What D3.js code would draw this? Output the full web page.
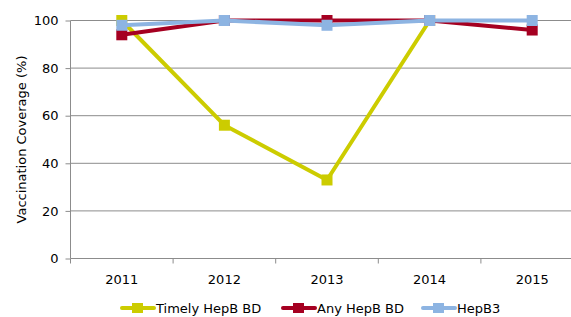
<!DOCTYPE html>
<html><head><meta charset="utf-8">
<script src="https://cdn.jsdelivr.net/npm/d3@7"></script>
<style>body{margin:0;background:#fff}svg{display:block}</style>
</head><body>
<script>
const years = ["2011","2012","2013","2014","2015"];
const timely = [100, 56, 33, 100, null];
const anyBD = [94, 100, 100, 100, 96];
const hepB3 = [98, 100, 98, 100, 100];
const yTicks = [0,20,40,60,80,100];
const seriesNames = ["Timely HepB BD","Any HepB BD","HepB3"];
const colors = ["#CCCC00","#A50021","#8DB4E2"];

const W=571,H=317;
const svg=d3.select("body").append("svg").attr("width",W).attr("height",H);
const font="'DejaVu Sans', Verdana, sans-serif";
const x=d3.scaleBand().domain(years).range([70.5,583.5]);
const y=d3.scaleLinear().domain([0,100]).range([258.5,20.5]);

// grid
svg.append("g").selectAll("line").data(yTicks.filter(d=>d>0)).join("line")
 .attr("x1",70.5).attr("x2",W).attr("y1",d=>y(d)).attr("y2",d=>y(d))
 .attr("stroke","#8c8c8c").attr("stroke-width",1);

// y axis
const ya=svg.append("g").attr("transform","translate(70.5,0)")
 .call(d3.axisLeft(y).tickValues(yTicks).tickSize(5).tickPadding(7));
ya.select(".domain").attr("stroke","#8c8c8c").attr("d","M0,"+y(100)+"V"+y(0));
ya.selectAll(".tick line").attr("stroke","#8c8c8c");
ya.selectAll("text").attr("font-family",font).attr("font-size",13).attr("fill","#000");

// x axis
const xa=svg.append("g").attr("transform","translate(0,"+y(0)+")")
 .call(d3.axisBottom(x).tickSize(0).tickPadding(16));
xa.select(".domain").attr("stroke","#8c8c8c").attr("d","M70.5,0H"+W);
xa.selectAll("text").attr("font-family",font).attr("font-size",13).attr("fill","#000");
svg.append("g").selectAll("line").data(years).join("line")
 .attr("x1",d=>x(d)).attr("x2",d=>x(d)).attr("y1",y(0)).attr("y2",y(0)+5)
 .attr("stroke","#8c8c8c");

// title
svg.append("text").attr("transform","translate(26,"+((y(0)+y(100))/2)+") rotate(-90)")
 .attr("text-anchor","middle").attr("font-family",font).attr("font-size",13)
 .text("Vaccination Coverage (%)");

const cx=d=>x(d)+x.bandwidth()/2;
const series=[timely,anyBD,hepB3];
series.forEach((vals,i)=>{
  const pts=years.map((yr,j)=>({yr,v:vals[j]})).filter(p=>p.v!=null);
  const line=d3.line().x(p=>cx(p.yr)).y(p=>y(p.v));
  svg.append("path").attr("d",line(pts)).attr("fill","none")
   .attr("stroke",colors[i]).attr("stroke-width",4).attr("stroke-linejoin","round");
  svg.append("g").selectAll("rect").data(pts).join("rect")
   .attr("x",p=>cx(p.yr)-5.5).attr("y",p=>y(p.v)-5.5).attr("width",11).attr("height",11)
   .attr("fill",colors[i]);
});

// legend
const lx=[122,283,423];
seriesNames.forEach((n,i)=>{
  const g=svg.append("g");
  g.append("line").attr("x1",lx[i]).attr("x2",lx[i]+32).attr("y1",308).attr("y2",308)
   .attr("stroke",colors[i]).attr("stroke-width",4).attr("stroke-linecap","round");
  g.append("rect").attr("x",lx[i]+10).attr("y",303).attr("width",11).attr("height",10).attr("fill",colors[i]);
  g.append("text").attr("x",lx[i]+34).attr("y",313).attr("font-family",font).attr("font-size",13).text(n);
});
</script>
</body></html>
